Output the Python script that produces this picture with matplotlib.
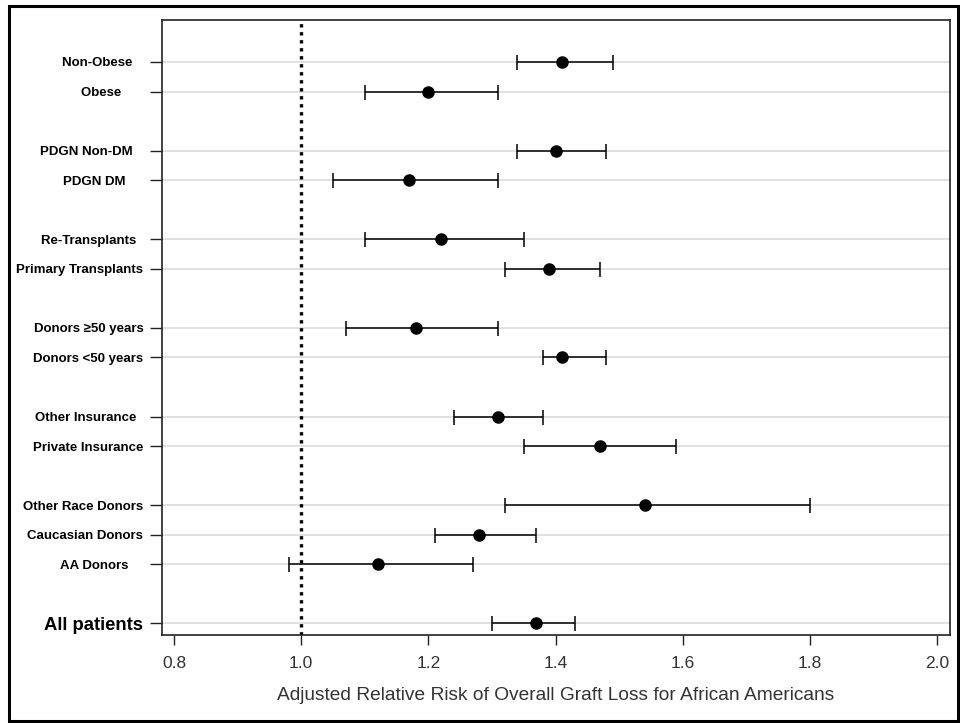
import matplotlib
matplotlib.use('Agg')
import matplotlib.pyplot as plt
from matplotlib.patches import Rectangle
import numpy as np

plt.rcParams['font.family'] = ['Liberation Sans', 'DejaVu Sans']

# subgroups, top to bottom (trailing spaces kept as in the original labels)
labels = ['Non-Obese   ', 'Obese      ', 'PDGN Non-DM   ', 'PDGN DM     ',
          'Re-Transplants  ', 'Primary Transplants', 'Donors \u226550 years',
          'Donors <50 years', 'Other Insurance  ', 'Private Insurance',
          'Other Race Donors', 'Caucasian Donors', 'AA Donors    ',
          'All patients']
positions = [19, 18, 16, 15, 13, 12, 10, 9, 7, 6, 4, 3, 2, 0]

rr    = np.array([1.41, 1.20, 1.40, 1.17, 1.22, 1.39, 1.18, 1.41, 1.31, 1.47, 1.54, 1.28, 1.12, 1.37])
lower = np.array([1.34, 1.10, 1.34, 1.05, 1.10, 1.32, 1.07, 1.38, 1.24, 1.35, 1.32, 1.21, 0.98, 1.30])
upper = np.array([1.49, 1.31, 1.48, 1.31, 1.35, 1.47, 1.31, 1.48, 1.38, 1.59, 1.80, 1.37, 1.27, 1.43])

x_ticks = [0.8, 1.0, 1.2, 1.4, 1.6, 1.8, 2.0]

fig = plt.figure(figsize=(9.6, 7.23), dpi=100)
ax = fig.add_axes([162 / 960, 1 - 635 / 723, (949.5 - 162) / 960, (635 - 20) / 723])

# light reference lines per row
for p in positions:
    ax.axhline(p, color='#dcdcdc', lw=1.2, zorder=0)

# null line at RR = 1
ax.axvline(1.0, color='black', lw=2.4, linestyle=(0, (1, 1.4)), zorder=1)

ax.errorbar(rr, positions, xerr=[rr - lower, upper - rr], fmt='o',
            color='black', ms=8, elinewidth=1.1, capsize=5.4, capthick=1.1,
            zorder=3)

ax.set_xlim(0.781, 2.0197)
ax.set_ylim(-0.39, 20.42)

ax.set_xticks(x_ticks)
ax.set_xticklabels([f'{t:.1f}' for t in x_ticks])
ax.set_yticks(positions)
ax.set_yticklabels(labels, fontweight='bold', fontsize=9.5)
ax.get_yticklabels()[-1].set_fontsize(13.3)

ax.tick_params(axis='y', length=9, width=1, pad=4.5, color='#222222')
ax.tick_params(axis='x', length=7, width=1, pad=8, labelsize=12.5,
               labelcolor='#333333', color='#222222')

ax.set_xlabel('Adjusted Relative Risk of Overall Graft Loss for African Americans',
              fontsize=13.8, color='#333333', labelpad=12)

for s in ax.spines.values():
    s.set_color('#222222')
    s.set_linewidth(1.2)

# outer frame round the whole picture
fig.add_artist(Rectangle((8.5 / 960, 1 - 721 / 723), (957.5 - 8.5) / 960,
                         (721 - 5.5) / 723, transform=fig.transFigure,
                         fill=False, lw=2.2, ec='black'))

fig.savefig('out.png', dpi=100)
